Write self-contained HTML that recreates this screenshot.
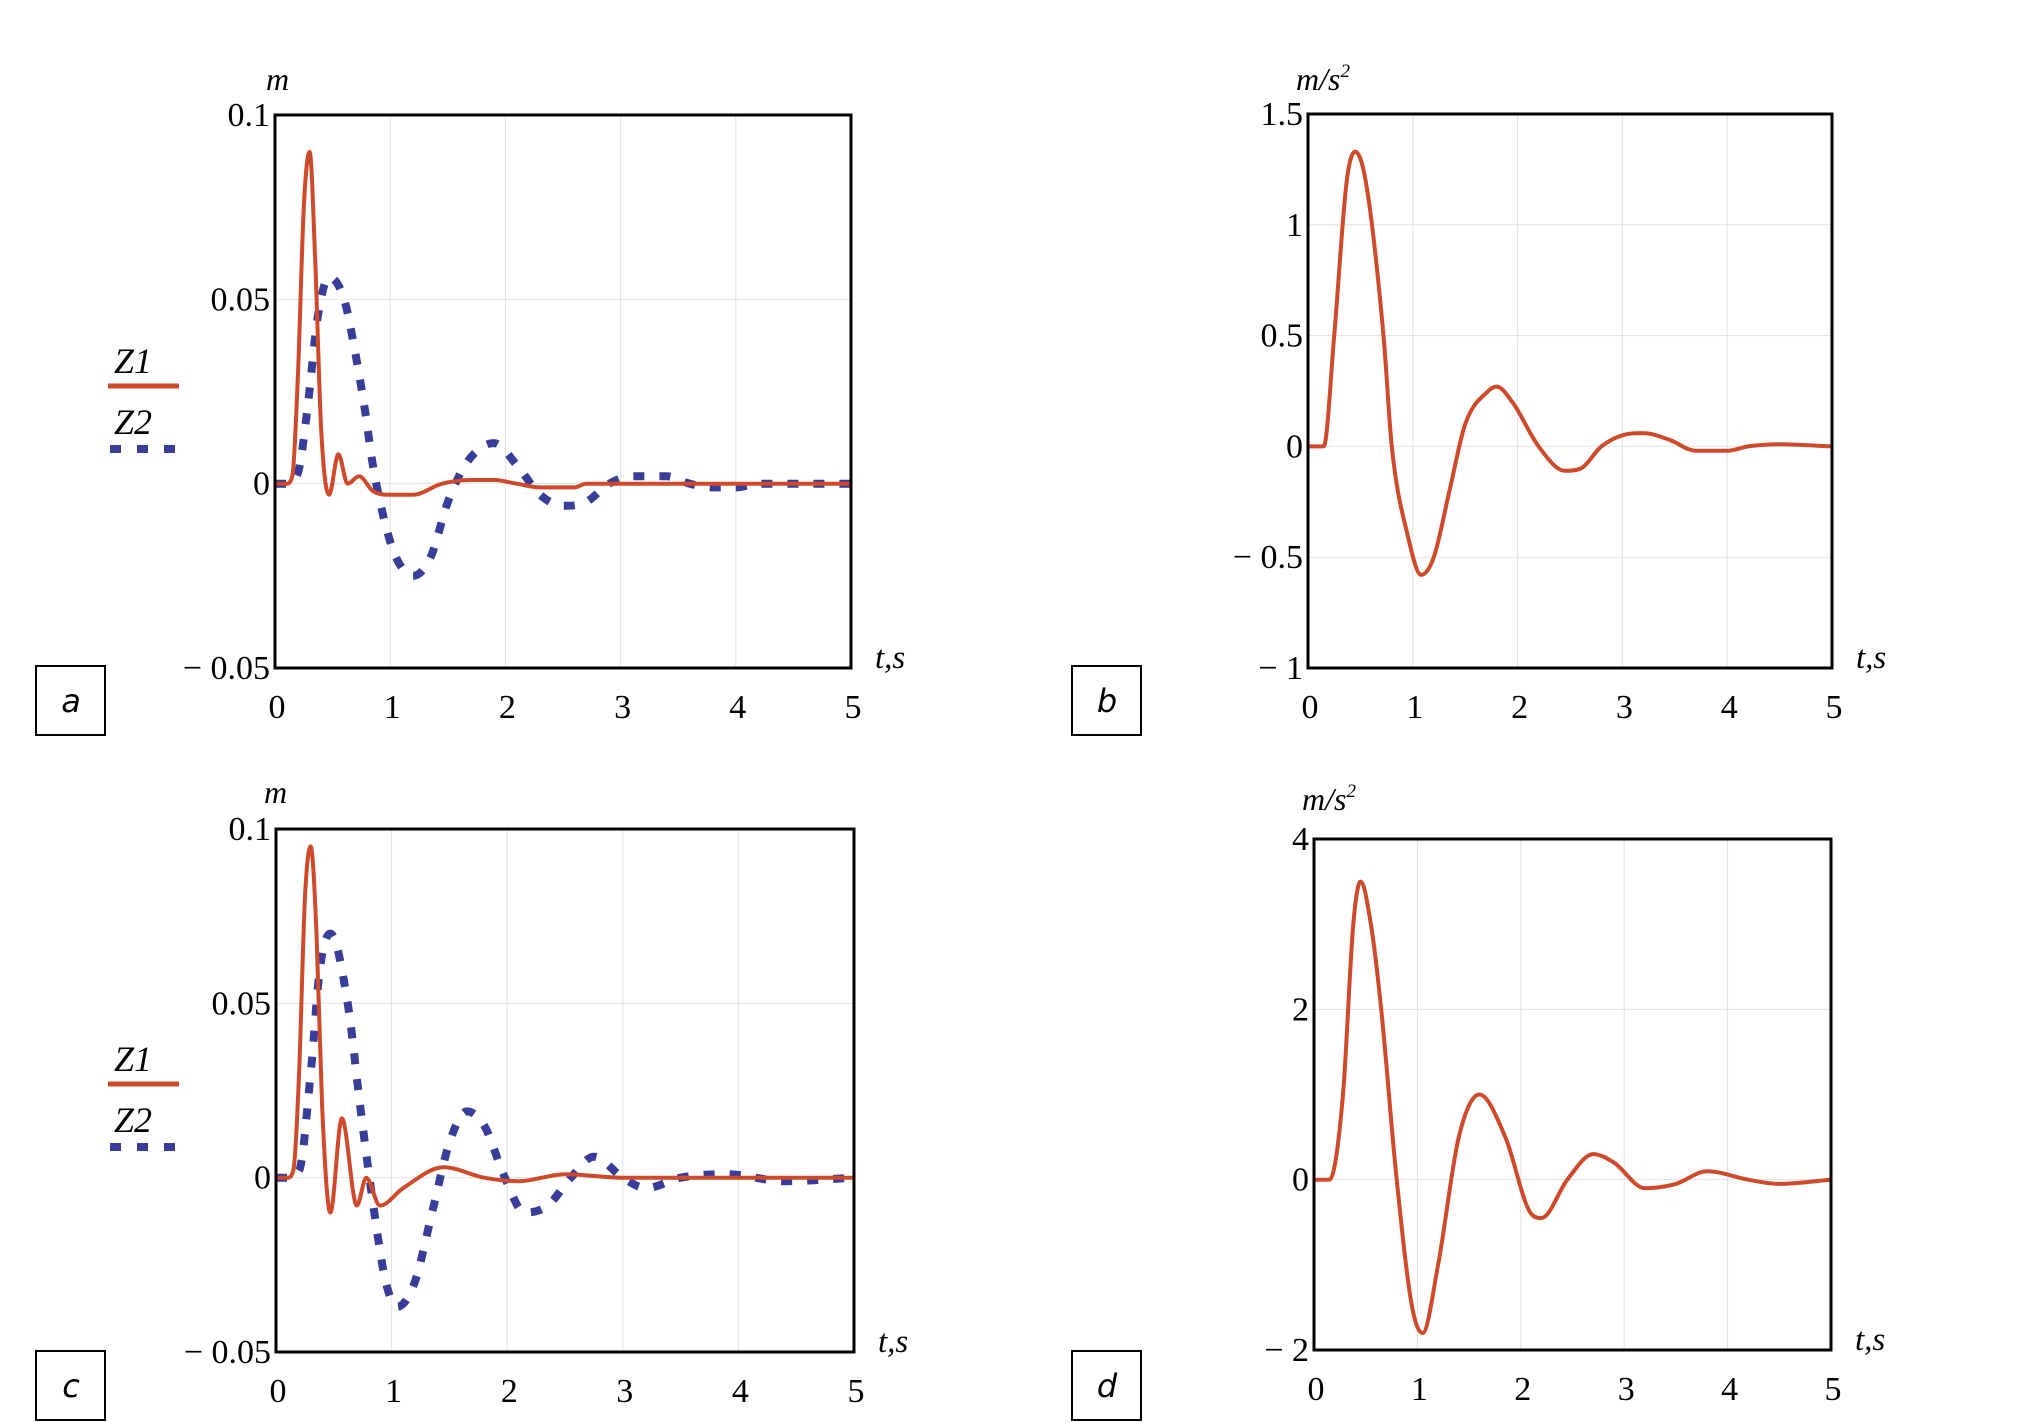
<!DOCTYPE html>
<html><head><meta charset="utf-8"><style>
html,body{margin:0;padding:0;background:#fff}
svg{display:block}
text{font-family:"Liberation Serif",serif;fill:#000}
</style></head><body>
<svg id="fig" width="2020" height="1423" viewBox="0 0 2020 1423" xmlns="http://www.w3.org/2000/svg"></svg>
<script>
const NS="http://www.w3.org/2000/svg";
// ---- data ----
const aZ1T=[0,0.1,0.15,0.2,0.25,0.3,0.35,0.4,0.47,0.55,0.63,0.73,0.85,1.0,1.2,1.45,1.7,1.9,2.1,2.3,2.6,2.7,5];
const aZ1V=[0,0,0.002,0.03,0.075,0.09,0.06,0.015,-0.003,0.008,0,0.002,-0.002,-0.003,-0.003,0,0.001,0.001,0,-0.001,-0.001,0,0];
const aZ2T=[0,0.1,0.2,0.28,0.37,0.47,0.6,0.7,0.78,0.85,0.95,1.05,1.2,1.35,1.5,1.65,1.8,1.9,2.1,2.3,2.5,2.7,2.9,3.1,3.4,3.6,3.8,4.0,4.2,5];
const aZ2V=[0,0,0.003,0.02,0.045,0.056,0.05,0.035,0.02,0.005,-0.01,-0.02,-0.025,-0.02,-0.005,0.005,0.01,0.011,0.005,-0.003,-0.006,-0.005,0,0.002,0.002,0,-0.001,-0.001,0,0];
const bT=[0,0.15,0.25,0.37,0.45,0.55,0.72,0.8,0.95,1.08,1.2,1.35,1.5,1.72,1.8,1.95,2.2,2.45,2.6,2.8,3.0,3.2,3.45,3.7,4.0,4.2,4.5,5];
const bV=[0,0,0.5,1.2,1.33,1.2,0.5,0,-0.4,-0.58,-0.5,-0.2,0.1,0.25,0.27,0.2,0,-0.11,-0.1,0,0.05,0.06,0.03,-0.02,-0.02,0,0.01,0];
const cZ1T=[0,0.1,0.15,0.2,0.25,0.3,0.35,0.4,0.47,0.57,0.7,0.78,0.9,1.1,1.45,1.8,2.1,2.5,3,5];
const cZ1V=[0,0,0.002,0.03,0.08,0.095,0.07,0.02,-0.01,0.017,-0.008,0,-0.008,-0.003,0.003,0,-0.001,0.001,0,0];
const cZ2T=[0,0.1,0.2,0.3,0.38,0.47,0.62,0.73,0.85,0.95,1.05,1.2,1.35,1.5,1.65,1.8,1.98,2.15,2.35,2.55,2.75,3.0,3.2,3.5,3.9,4.4,5];
const cZ2V=[0,0,0.002,0.03,0.06,0.07,0.05,0.02,-0.01,-0.03,-0.037,-0.03,-0.01,0.01,0.019,0.015,0,-0.01,-0.008,0,0.006,0,-0.003,0,0.001,-0.001,0];
const dT=[0,0.15,0.28,0.38,0.45,0.55,0.65,0.8,0.95,1.05,1.2,1.4,1.6,1.85,2.1,2.2,2.45,2.7,2.9,3.2,3.5,3.8,4.2,4.5,5];
const dV=[0,0,1,3.0,3.5,3.0,2,0,-1.5,-1.8,-1,0.5,1,0.5,-0.4,-0.45,0,0.3,0.2,-0.1,-0.05,0.1,0,-0.05,0];
const xTicks=[0,1,2,3,4,5];
const ticksA=[-0.05,0,0.05,0.1], labA=["\u2212 0.05","0","0.05","0.1"];
const ticksB=[-1,-0.5,0,0.5,1,1.5], labB=["\u2212 1","\u2212 0.5","0","0.5","1","1.5"];
const ticksD=[-2,0,2,4], labD=["\u2212 2","0","2","4"];
const RED="#cf4a2b", BLUE="#373d98";
const svg=document.getElementById('fig');
function el(tag,attrs,parent,txt){const e=document.createElementNS(NS,tag);for(const k in attrs)e.setAttribute(k,attrs[k]);if(txt!==undefined)e.textContent=txt;(parent||svg).appendChild(e);return e;}
// monotone cubic (Fritsch-Carlson) to avoid overshoot
function pathFrom(p){
  const n=p.length, dx=[], s=[], m=[];
  for(let i=0;i<n-1;i++){dx[i]=p[i+1][0]-p[i][0];s[i]=(p[i+1][1]-p[i][1])/dx[i];}
  m[0]=s[0];m[n-1]=s[n-2];
  for(let i=1;i<n-1;i++){m[i]=(s[i-1]*s[i]<=0)?0:(s[i-1]+s[i])/2;}
  for(let i=0;i<n-1;i++){if(s[i]===0){m[i]=0;m[i+1]=0;continue;}const a=m[i]/s[i],b=m[i+1]/s[i],h=a*a+b*b;if(h>9){const t=3/Math.sqrt(h);m[i]=t*a*s[i];m[i+1]=t*b*s[i];}}
  let d="M"+p[0][0]+","+p[0][1];
  for(let i=0;i<n-1;i++){const h=dx[i]/3;d+=" C"+(p[i][0]+h).toFixed(1)+","+(p[i][1]+m[i]*h).toFixed(1)+" "+(p[i+1][0]-h).toFixed(1)+","+(p[i+1][1]-m[i+1]*h).toFixed(1)+" "+p[i+1][0]+","+p[i+1][1];}
  return d;
}
function panel(o){
  const g=el('g',{});
  
  
  const xs=t=>o.l+(t/5)*(o.r-o.l);
  const ys=v=>o.b-(v-o.ymin)/(o.ymax-o.ymin)*(o.b-o.t);
  xTicks.forEach(t=>{if(t>0&&t<5){const l=el('line',{x1:xs(t),x2:xs(t),y1:o.t,y2:o.b,stroke:"#e2e2e2","stroke-width":1},g);}});
  o.ticks.forEach(v=>{if(v>o.ymin&&v<o.ymax){const l=el('line',{x1:o.l,x2:o.r,y1:ys(v),y2:ys(v),stroke:"#e2e2e2","stroke-width":1},g);}});
  o.series.forEach(s=>{
    const pts=s.t.map((t,i)=>[+xs(t).toFixed(1),+ys(s.v[i]).toFixed(1)]);
    const p=el('path',{d:pathFrom(pts),fill:"none",stroke:s.c,"stroke-width":s.dash?8:4,"stroke-dasharray":s.dash||"none","stroke-linejoin":"round"},g);
    
    
  });
  const box=el('rect',{x:o.l,y:o.t,width:o.r-o.l,height:o.b-o.t,fill:"none",stroke:"#000","stroke-width":3},g);
  
  
  xTicks.forEach(t=>{const tx=el('text',{x:xs(t)+2,y:o.b+50,"font-size":34,"text-anchor":"middle"},g,String(t));});
  o.ticks.forEach((v,i)=>{const tx=el('text',{x:o.l-5,y:ys(v)+11,"font-size":34,"text-anchor":"end"},g,o.labs[i]);});
  const yl=el('text',{x:o.ulx,y:o.uly,"font-size":32,"font-style":"italic"},g);
  
  
  if(o.acc){yl.textContent="m/s";el('tspan',{dy:-13,"font-size":19},yl,"2");}else yl.textContent="m";
  const xl=el('text',{x:o.r+24,y:o.b,"font-size":33,"font-style":"italic"},g,"t,s");
  
  
  const lb=el('rect',{x:o.bx,y:o.by,width:69,height:69,fill:"none",stroke:"#000","stroke-width":2},g);
  
  
  const lt=el('text',{x:o.bx+35,y:o.by+46,"font-size":32,"font-style":"italic","text-anchor":"middle",style:"font-family:'DejaVu Sans',sans-serif"},g,o.letter);
  
  
  if(o.legendY){
    const lg=el('g',{},g);
    
    
    const y=o.legendY;
    const t1=el('text',{x:114,y:y-13,"font-size":36,"font-style":"italic"},lg,"Z1");
    
    
    const l1=el('line',{x1:108,x2:179,y1:y,y2:y,stroke:RED,"stroke-width":5},lg);
    
    
    const t2=el('text',{x:114,y:y+48,"font-size":36,"font-style":"italic"},lg,"Z2");
    
    
    const l2=el('line',{x1:110,x2:179,y1:y+63,y2:y+63,stroke:BLUE,"stroke-width":8,"stroke-dasharray":"11 16"},lg);
    
    
  }
}
panel({name:'chart-a',l:275,r:851,t:115,b:668,ymin:-0.05,ymax:0.1,ticks:ticksA,labs:labA,
  series:[{name:'line-z2',t:aZ2T,v:aZ2V,c:BLUE,dash:"11 15"},{name:'line-z1',t:aZ1T,v:aZ1V,c:RED}],
  ulx:266,uly:90,bx:36,by:666,letter:"a",legendY:386});
panel({name:'chart-b',l:1308,r:1832,t:114,b:668,ymin:-1,ymax:1.5,ticks:ticksB,labs:labB,acc:true,
  series:[{name:'line-acceleration',t:bT,v:bV,c:RED}],
  ulx:1296,uly:90,bx:1072,by:666,letter:"b"});
panel({name:'chart-c',l:276,r:854,t:829,b:1352,ymin:-0.05,ymax:0.1,ticks:ticksA,labs:labA,
  series:[{name:'line-z2',t:cZ2T,v:cZ2V,c:BLUE,dash:"11 15"},{name:'line-z1',t:cZ1T,v:cZ1V,c:RED}],
  ulx:264,uly:803,bx:36,by:1351,letter:"c",legendY:1084});
panel({name:'chart-d',l:1314,r:1831,t:839,b:1350,ymin:-2,ymax:4,ticks:ticksD,labs:labD,acc:true,
  series:[{name:'line-acceleration',t:dT,v:dV,c:RED}],
  ulx:1302,uly:810,bx:1072,by:1351,letter:"d"});
</script>
</body></html>
